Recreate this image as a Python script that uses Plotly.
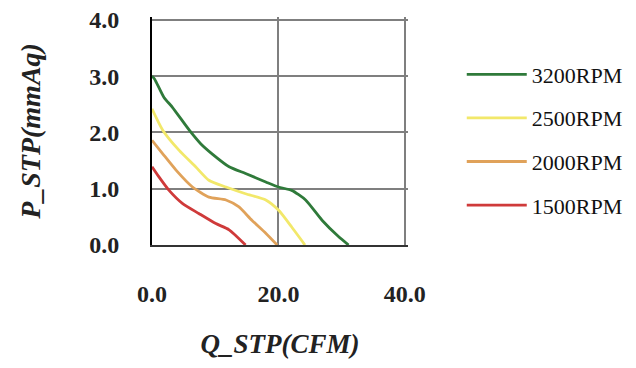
import plotly.graph_objects as go

x_3200 = [0.0, 0.4, 1.9, 3.2, 5.9, 7.7, 9.5, 12.2, 14.8, 18.0, 20.0, 22.1, 24.3, 26.9, 29.5, 31.1]
y_3200 = [3.0, 2.95, 2.62, 2.45, 2.04, 1.80, 1.62, 1.39, 1.27, 1.12, 1.03, 0.97, 0.80, 0.44, 0.15, 0.0]

x_2500 = [0.0, 1.7, 4.3, 6.9, 9.0, 11.7, 14.8, 18.0, 20.0, 22.1, 24.0, 24.2]
y_2500 = [2.42, 2.04, 1.68, 1.39, 1.15, 1.03, 0.91, 0.80, 0.62, 0.32, 0.03, 0.0]

x_2000 = [0.0, 1.7, 3.8, 6.4, 9.0, 11.7, 13.7, 15.8, 18.0, 19.8]
y_2000 = [1.86, 1.62, 1.33, 1.03, 0.85, 0.80, 0.68, 0.44, 0.21, 0.0]

x_1500 = [0.0, 1.1, 2.7, 4.8, 7.4, 10.1, 12.2, 14.8]
y_1500 = [1.39, 1.21, 0.97, 0.74, 0.56, 0.38, 0.27, 0.0]

series_names = ["3200RPM", "2500RPM", "2000RPM", "1500RPM"]
series_colors = ["#2f7a3a", "#f2e86a", "#e0a25a", "#cf3a3a"]
series_x = [x_3200, x_2500, x_2000, x_1500]
series_y = [y_3200, y_2500, y_2000, y_1500]

x_ticks = [0, 20, 40]
x_tick_labels = ["0.0", "20.0", "40.0"]
y_ticks = [0, 1, 2, 3, 4]
y_tick_labels = ["0.0", "1.0", "2.0", "3.0", "4.0"]

fig = go.Figure()
for name, color, xs, ys in zip(series_names, series_colors, series_x, series_y):
    fig.add_trace(go.Scatter(x=xs, y=ys, mode="lines", name=name, legendgroup=name,
                             line=dict(color=color, width=2.8, shape="spline", smoothing=0.6)))

font_family = "Liberation Serif, Times New Roman, serif"
# page body has an 8px default margin, so margins are offset accordingly
fig.update_layout(
    width=636, height=368,
    margin=dict(l=144, r=236, t=9, b=131, autoexpand=False),
    paper_bgcolor="white", plot_bgcolor="white",
    font=dict(family=font_family, size=15, color="black"),
    showlegend=True,
    legend=dict(x=1.21, y=0.84, xanchor="left", yanchor="top",
                font=dict(family=font_family, size=22, color="#111"),
                tracegroupgap=12, itemwidth=60, bgcolor="rgba(0,0,0,0)"),
    xaxis=dict(range=[0, 40.5], tickvals=x_ticks, ticktext=x_tick_labels,
               showgrid=True, gridcolor="#7f7f7f", gridwidth=1.5,
               showline=True, linecolor="#333333", linewidth=2, mirror=False,
               zeroline=False, ticks="", ticklabelstandoff=26, ticklabeloverflow="allow",
               tickfont=dict(family=font_family, size=24, color="#222", weight="bold"),
               title=dict(text="<b><i>Q_STP(CFM)</i></b>", standoff=28,
                          font=dict(family=font_family, size=27, color="#222"))),
    yaxis=dict(range=[0, 4.05], tickvals=y_ticks, ticktext=y_tick_labels,
               showgrid=True, gridcolor="#7f7f7f", gridwidth=1.5,
               showline=True, linecolor="black", linewidth=2,
               zeroline=False, ticks="", ticklabelstandoff=26, ticklabeloverflow="allow",
               tickfont=dict(family=font_family, size=24, color="#222", weight="bold"),
               title=dict(text="<b><i>P_STP(mmAq)</i></b>", standoff=40,
                          font=dict(family=font_family, size=28, color="#222"))),
)

fig.write_html("out.html")
